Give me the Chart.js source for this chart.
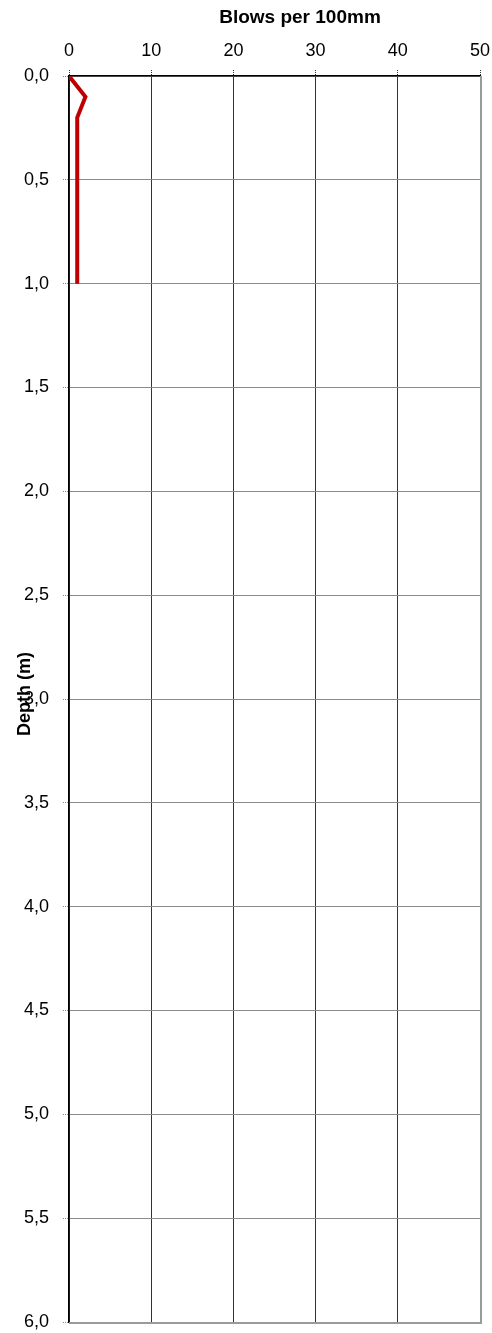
<!DOCTYPE html>
<html>
<head>
<meta charset="utf-8">
<script src="https://cdn.jsdelivr.net/npm/chart.js@4/dist/chart.umd.min.js"></script>
<style>
  html, body { margin: 0; padding: 0; background: #fff; }
  #wrap { width: 492px; height: 1333px; }
</style>
</head>
<body>
<div id="wrap"><canvas id="dcpChart"></canvas></div>
<script>
// DCP test: blows per 100mm against depth
const depths = [0.0, 0.1, 0.2, 0.3, 0.4, 0.5, 0.6, 0.7, 0.8, 0.9, 1.0]
const blows = [0, 2, 1, 1, 1, 1, 1, 1, 1, 1, 1]

const xTitle = "Blows per 100mm"
const yTitle = "Depth (m)"

const font = "'Liberation Sans', Arial, sans-serif"

// titles are painted by hand so they can sit where the layout wants them
const titlesPlugin = {
  id: "titles",
  afterDraw(chart) {
    const ctx = chart.ctx
    const area = chart.chartArea
    ctx.save()
    ctx.fillStyle = "#000"
    ctx.font = "bold 19px " + font
    ctx.textAlign = "center"
    ctx.textBaseline = "middle"
    ctx.fillText(xTitle, 300, 18)
    ctx.font = "bold 18px " + font
    ctx.translate(25, (area.top + area.bottom) / 2 - 5)
    ctx.rotate(-Math.PI / 2)
    ctx.fillText(yTitle, 0, 0)
    ctx.restore()
  }
}

// grey frame on the bottom and right edges of the plot
const framePlugin = {
  id: "frame",
  afterDatasetsDraw(chart) {
    const ctx = chart.ctx
    const a = chart.chartArea
    ctx.save()
    ctx.strokeStyle = "#9a9a9a"
    ctx.lineWidth = 2
    ctx.beginPath()
    ctx.moveTo(a.left, a.bottom + 1)
    ctx.lineTo(a.right + 1, a.bottom + 1)
    ctx.lineTo(a.right + 1, a.top)
    ctx.stroke()
    ctx.restore()
  }
}

new Chart(document.getElementById("dcpChart"), {
  type: "line",
  data: {
    datasets: [{
      label: "DCP",
      data: depths.map((d, i) => ({ x: blows[i], y: d })),
      borderColor: "#c00000",
      borderWidth: 4,
      pointRadius: 0,
      tension: 0,
      fill: false
    }]
  },
  options: {
    responsive: true,
    maintainAspectRatio: false,
    animation: false,
    layout: { padding: { left: 0, top: 0, right: 12, bottom: 11 } },
    plugins: {
      legend: { display: false },
      tooltip: { enabled: false }
    },
    scales: {
      x: {
        type: "linear",
        position: "top",
        min: 0,
        max: 50,
        afterFit: (scale) => {
          scale.height = 76
          scale.paddingLeft = 0
          scale.paddingRight = 0
        },
        ticks: {
          stepSize: 10,
          padding: 8,
          color: "#000",
          font: { family: font, size: 18 }
        },
        grid: {
          color: "#333",
          borderDash: [1, 1],
          tickLength: 6,
          tickBorderDash: [1, 1],
          tickColor: "#333"
        },
        border: { display: true, color: "#000", width: 1.5 }
      },
      y: {
        type: "linear",
        reverse: true,
        min: 0,
        max: 6,
        afterFit: (scale) => {
          scale.width = 69
          scale.paddingTop = 0
          scale.paddingBottom = 0
        },
        ticks: {
          stepSize: 0.5,
          padding: 14,
          color: "#000",
          font: { family: font, size: 18 },
          callback: (v) => v.toFixed(1).replace(".", ",")
        },
        grid: {
          color: "#8a8a8a",
          borderDash: [1, 1],
          tickLength: 6,
          tickBorderDash: [1, 1]
        },
        border: { display: true, color: "#000", width: 1.5 }
      }
    }
  },
  plugins: [titlesPlugin, framePlugin]
})
</script>
</body>
</html>
